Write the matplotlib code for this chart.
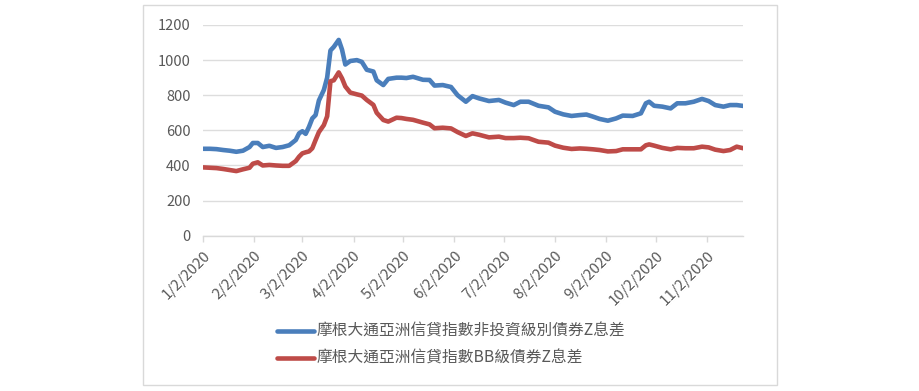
import matplotlib
matplotlib.use('Agg')
import matplotlib.pyplot as plt
from matplotlib.lines import Line2D
from matplotlib.patches import Rectangle
import pandas as pd

plt.rcParams['font.family'] = ['Noto Sans CJK TC', 'DejaVu Sans']

# days after 2020-01-02
day_offsets = [0, 4, 8, 12, 16, 20, 24, 28, 30, 33, 36, 40, 44, 48, 52, 56, 58, 60, 62, 64,
               66, 68, 70, 73, 75, 77, 79, 82, 84, 86, 89, 93, 96, 99, 103, 105, 109, 112, 117, 120,
               123, 127, 133, 137, 140, 145, 150, 154, 159, 163, 167, 173, 179, 183, 188, 192, 197, 203, 209, 213,
               218, 223, 228, 232, 236, 240, 245, 250, 254, 260, 265, 268, 270, 273, 278, 283, 287, 292, 297, 302,
               306, 310, 315, 319, 323, 327]

hy_spread = [495, 495, 493, 488, 484, 478, 484, 505, 528, 528, 505, 512, 500, 505, 515, 545, 583, 595, 580, 620,
             668, 687, 770, 830, 900, 1055, 1075, 1115, 1060, 975, 995, 1000, 990, 945, 935, 885, 858, 893, 900, 900,
             898, 905, 888, 887, 855, 858, 847, 800, 763, 795, 782, 767, 773, 758, 744, 763, 763, 740, 731, 706,
             691, 682, 687, 690, 678, 665, 655, 668, 684, 682, 697, 754, 763, 740, 735, 725, 754, 754, 763, 779,
             767, 744, 735, 744, 744, 739]

bb_spread = [389, 387, 385, 380, 374, 368, 378, 387, 410, 418, 400, 403, 400, 398, 398, 425, 450, 469, 475, 480,
             498, 545, 590, 630, 680, 880, 885, 930, 896, 850, 815, 805, 798, 773, 745, 700, 659, 650, 672, 670,
             665, 660, 644, 634, 612, 615, 611, 590, 568, 583, 575, 560, 564, 556, 556, 558, 555, 535, 530, 513,
             501, 494, 497, 495, 492, 488, 480, 482, 492, 492, 492, 515, 520, 513, 500, 492, 500, 498, 498, 507,
             503, 490, 482, 488, 507, 498]

series_names = ['摩根大通亞洲信貸指數非投資級別債券Z息差', '摩根大通亞洲信貸指數BB級債券Z息差']
series_colors = ['#4A7EBB', '#BE4B48']

tick_dates = ['2020-01-02', '2020-02-02', '2020-03-02', '2020-04-02', '2020-05-02', '2020-06-02',
              '2020-07-02', '2020-08-02', '2020-09-02', '2020-10-02', '2020-11-02']
tick_labels = ['1/2/2020', '2/2/2020', '3/2/2020', '4/2/2020', '5/2/2020', '6/2/2020',
               '7/2/2020', '8/2/2020', '9/2/2020', '10/2/2020', '11/2/2020']

start = pd.Timestamp('2020-01-02')
dates = start + pd.to_timedelta(day_offsets, unit='D')

fig = plt.figure(figsize=(9.2, 3.91), dpi=100)
fig.patch.set_facecolor('white')

# outer chart border
fig.add_artist(Rectangle((143 / 920, 1 - 385 / 391), (777 - 143) / 920, (385 - 5) / 391,
                         transform=fig.transFigure, fill=False, edgecolor='#D9D9D9', linewidth=1))

ax = fig.add_axes([203.3 / 920, 1 - 235.7 / 391, (743.3 - 203.3) / 920, (235.7 - 25) / 391])

for vals, color in zip([hy_spread, bb_spread], series_colors):
    ax.plot(dates, vals, color=color, linewidth=3.3, solid_joinstyle='round', solid_capstyle='round')

ax.set_ylim(0, 1200)
ax.set_yticks(range(0, 1201, 200))
ax.set_xlim(start, start + pd.Timedelta(days=day_offsets[-1]))
ax.set_xticks(pd.to_datetime(tick_dates))
ax.set_xticklabels(tick_labels, rotation=45, ha='right', va='top', rotation_mode='anchor')

ax.grid(axis='y', color='#DDDDDD', linewidth=1)
ax.set_axisbelow(True)
for s in ['top', 'right', 'left']:
    ax.spines[s].set_visible(False)
ax.spines['bottom'].set_color('#D9D9D9')
ax.spines['bottom'].set_linewidth(1)

ax.tick_params(axis='y', length=0, pad=9, labelsize=10.5, labelcolor='#595959')
ax.tick_params(axis='x', length=4, width=1, color='#D9D9D9', pad=5, labelsize=10.8, labelcolor='#595959')
ax.set_facecolor('none')

# legend below the plot
leg_y = [1 - 331 / 391, 1 - 358 / 391]
for yy, name, color in zip(leg_y, series_names, series_colors):
    fig.add_artist(Line2D([277 / 920, 314 / 920], [yy, yy], transform=fig.transFigure,
                          color=color, linewidth=3.3, solid_capstyle='round'))
    fig.text(317 / 920, yy, name, ha='left', va='center', fontsize=11.3, color='#595959')

fig.savefig('out.png', dpi=100, facecolor='white')
